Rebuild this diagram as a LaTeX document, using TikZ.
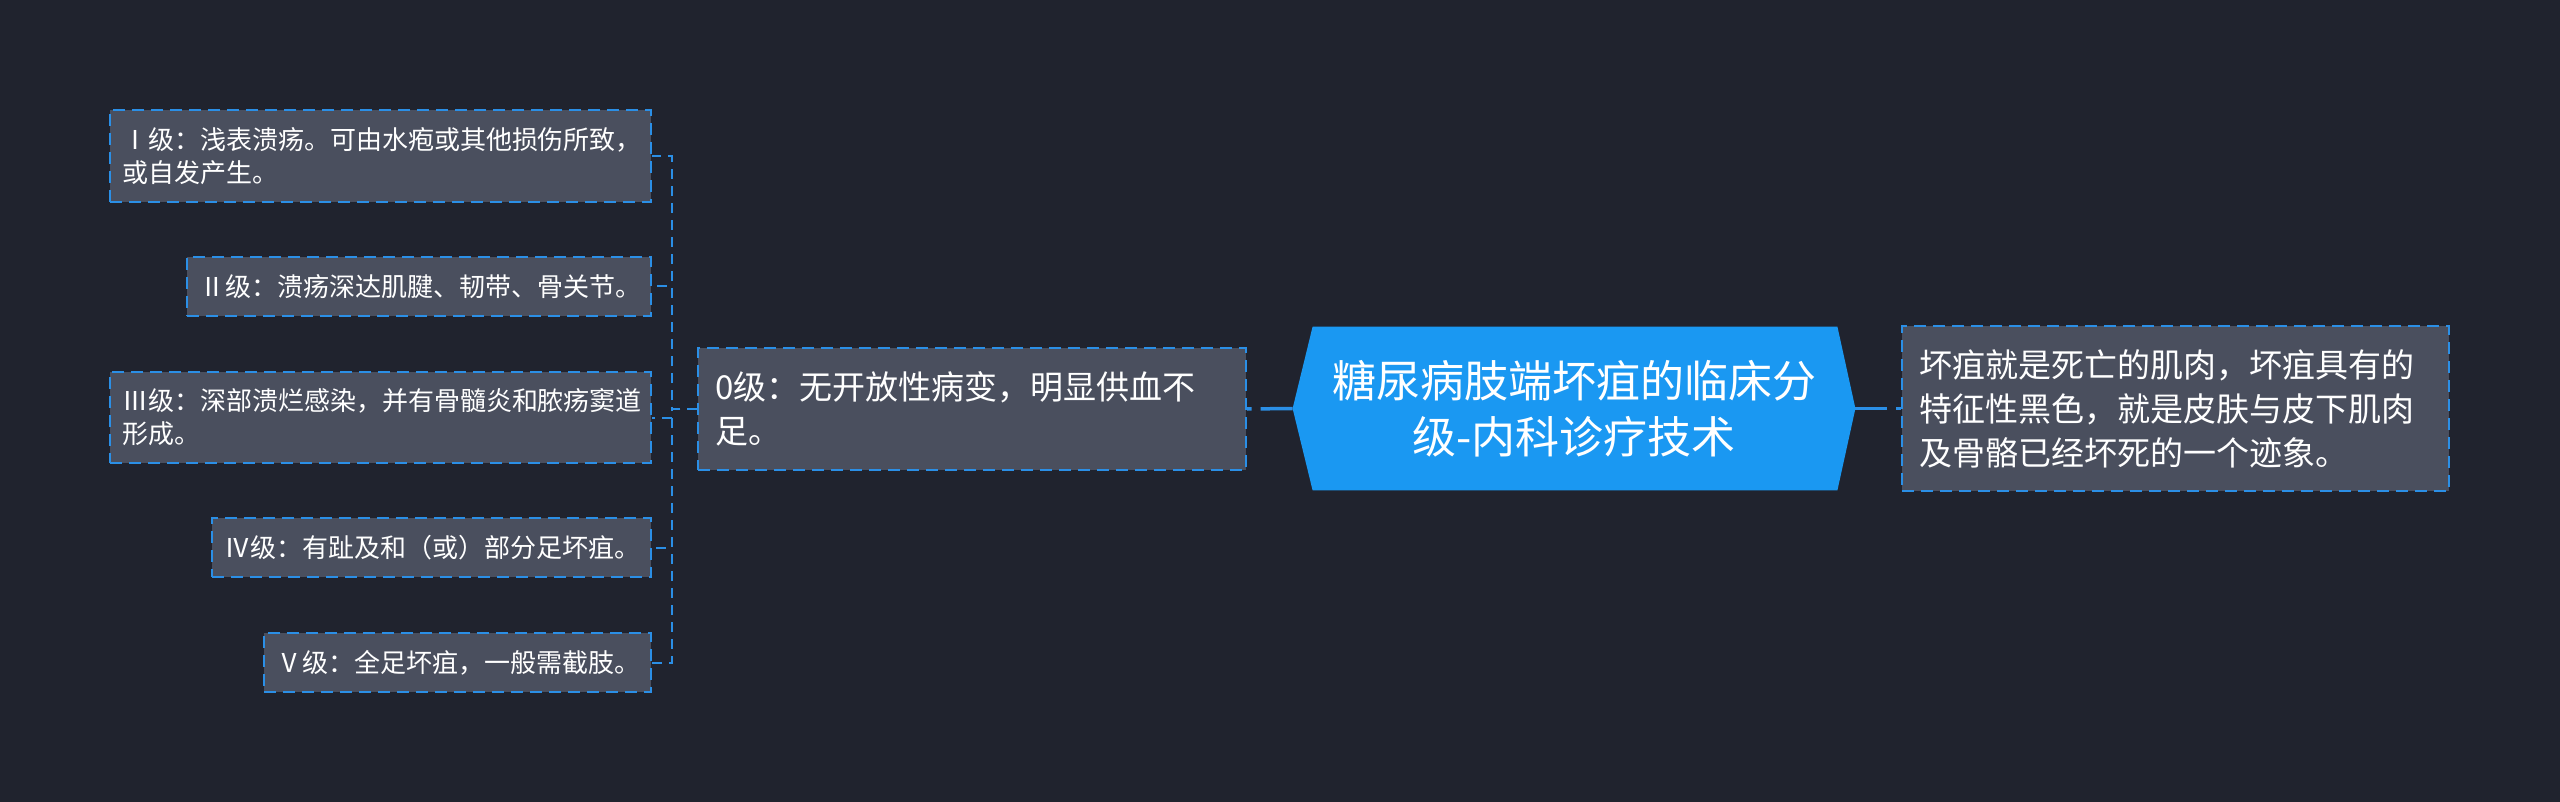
\documentclass[tikz,border=0pt]{standalone}
\usepackage{fontspec}
\setmainfont{Noto Sans CJK SC}
\usetikzlibrary{backgrounds}
\definecolor{bgdark}{HTML}{20232E}
\definecolor{boxgray}{HTML}{4A4F5E}
\definecolor{topicblue}{HTML}{1A98F2}
\definecolor{lineblue}{HTML}{2B8FE6}
\begin{document}
\begin{tikzpicture}[x=0.5pt,y=-0.5pt,
       topic/.style={rectangle,text=white,align=center,minimum width=281pt,minimum height=81.5pt,font=\fontsize{22}{28}\selectfont},
       sub/.style={rectangle,draw=lineblue,dash pattern=on 6pt off 3.5pt,line width=1pt,fill=boxgray,text=white,align=left,inner xsep=8.5pt,text width=#1,font=\fontsize{16.5}{22}\selectfont},
       leaf/.style={rectangle,draw=lineblue,dash pattern=on 6pt off 3.5pt,line width=1pt,fill=boxgray,text=white,align=left,inner xsep=6pt,text width=#1,minimum height=29.5pt,font=\fontsize{13}{16.5}\selectfont},
       link/.style={draw=lineblue,line width=1.75pt,dash pattern=on 16pt off 4.5pt},
       branch/.style={draw=lineblue,line width=1pt,dash pattern=on 5pt off 3.5pt}]
   \useasboundingbox (0,0) rectangle (2560,802);
   \node [topic] (root) at (1574,408.5) {糖尿病肢端坏疽的临床分\\级-内科诊疗技术};
   \node [sub=256.5pt,minimum height=82.5pt] (desc) at (2175.5,408.5)
       {坏疽就是死亡的肌肉，坏疽具有的\\特征性黑色，就是皮肤与皮下肌肉\\及骨骼已经坏死的一个迹象。};
   \node [sub=257pt,minimum height=61pt] (g0) at (972,409) {0级：无开放性病变，明显供血不\\足。};
   % grades I to V
   \node [leaf=258.5pt,minimum height=46pt] (g1) at (380.5,156) {Ⅰ级：浅表溃疡。可由水疱或其他损伤所致，\\或自发产生。};
   \node [leaf=220pt] (g2) at (419,286.5) {Ⅱ级：溃疡深达肌腱、韧带、骨关节。};
   \node [leaf=258.5pt,minimum height=45.5pt] (g3) at (380.5,417.5) {Ⅲ级：深部溃烂感染，并有骨髓炎和脓疡窦道\\形成。};
   \node [leaf=207.5pt] (g4) at (431.5,547.5) {Ⅳ级：有趾及和（或）部分足坏疽。};
   \node [leaf=181.5pt] (g5) at (457.5,662.5) {Ⅴ级：全足坏疽，一般需截肢。};
   \begin{scope}[on background layer]
     \fill[bgdark] (0,0) rectangle (2560,802);
     \fill[topicblue] ([xshift=10pt]root.north west) -- ([xshift=-9pt]root.north east) -- (root.east)
         -- ([xshift=-9pt]root.south east) -- ([xshift=10pt]root.south west) -- (root.west) -- cycle;
   \end{scope}
   \draw [link] (root.west) -- (g0.east);
   \draw [link] (root.east) -- (desc.west);
   \foreach \g in {g1,g2,g3,g4,g5}
     \draw [branch] (g0.west) -- ++(-25,0) |- (\g.east);
\end{tikzpicture}
\end{document}
